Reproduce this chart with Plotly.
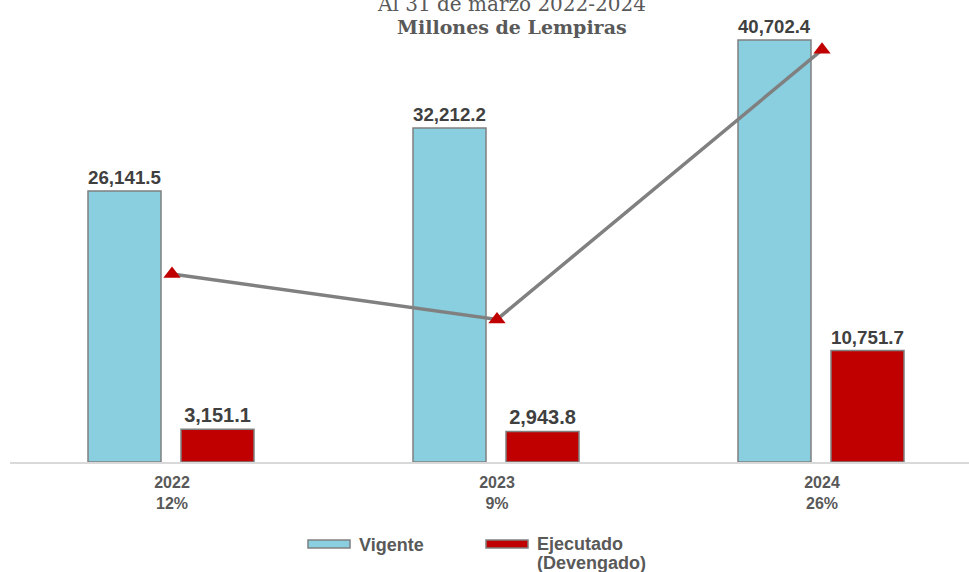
import plotly.graph_objects as go

years = ["2022", "2023", "2024"]
pct_labels = ["12%", "9%", "26%"]
vigente = [26141.5, 32212.2, 40702.4]
ejecutado = [3151.1, 2943.8, 10751.7]
pct_exec = [12.05, 9.14, 26.42]

W, H = 969, 572
L, R, T, B = 10, 0, 20, 110
PW, PH = W - L - R, H - T - B

def px(x):
    return (x - L) / PW

def py(y):
    return (H - B - y) / PH

xs = [0, 1, 2]
unit = 325.0
x0 = -(172 - L) / unit
x1 = x0 + PW / unit
bw = 73 / unit

lab_font = dict(family="Liberation Sans", size=20, color="#404040")

fig = go.Figure()
fig.add_trace(go.Bar(
    x=xs, y=vigente, width=bw, offset=(88 - 172) / unit,
    marker=dict(color="#89CFE0", line=dict(color="#808080", width=1.5)),
    text=[f"{v:,.1f}" for v in vigente], textposition="outside",
    textfont=lab_font, texttemplate="<b>%{text}</b>", cliponaxis=False,
    name="Vigente", showlegend=False))
fig.add_trace(go.Bar(
    x=xs, y=ejecutado, width=bw, offset=(181 - 172) / unit,
    marker=dict(color="#C00000", line=dict(color="#808080", width=1.5)),
    text=[f"{v:,.1f}" for v in ejecutado], textposition="outside",
    textfont=lab_font, texttemplate="<b>%{text}</b>", cliponaxis=False,
    name="Ejecutado (Devengado)", showlegend=False))
fig.add_trace(go.Scatter(
    x=xs, y=pct_exec, yaxis="y2", mode="lines+markers",
    line=dict(color="#808080", width=3.5),
    marker=dict(symbol="triangle-up", size=15, color="#C00000"),
    cliponaxis=False, showlegend=False))

ymax = PH / ((462 - 191) / 26141.5)
y2max = PH / (188 / 12.05)

fig.update_layout(
    width=W, height=H, margin=dict(l=L, r=R, t=T, b=B),
    paper_bgcolor="white", plot_bgcolor="white",
    barmode="overlay",
    xaxis=dict(range=[x0, x1], tickvals=xs,
               ticktext=[f"<b>{y}<br>{p}</b>" for y, p in zip(years, pct_labels)],
               tickfont=dict(family="Liberation Sans", size=16, color="#595959"),
               ticklabelstandoff=5,
               showline=True, linecolor="#D9D9D9", linewidth=1.5, showgrid=False,
               zeroline=False, ticks=""),
    yaxis=dict(range=[0, ymax], visible=False, showgrid=False),
    yaxis2=dict(range=[0, y2max], overlaying="y", visible=False, showgrid=False),
    showlegend=False,
)

annos = [
    dict(x=px(511), y=py(4), text="Al 31 de marzo 2022-2024",
         font=dict(family="DejaVu Serif", size=20, color="#595959")),
    dict(x=px(512), y=py(27), text="<b>Millones de Lempiras</b>",
         font=dict(family="DejaVu Serif", size=19, color="#595959")),
]
for a in annos:
    a.update(xref="paper", yref="paper", showarrow=False, xanchor="center", yanchor="middle")
    fig.add_annotation(**a)

leg_font = dict(family="Liberation Sans", size=18, color="#595959")
leg_items = [
    (308, 350, 540, 548, "#89CFE0", 357, 545, "<b>Vigente</b>"),
    (486, 528, 540, 548, "#C00000", 535, 544, "<b>Ejecutado</b>"),
]
for xa, xb, ya, yb, col, tx, ty, txt in leg_items:
    fig.add_shape(type="rect", xref="paper", yref="paper",
                  x0=px(xa), x1=px(xb), y0=py(yb), y1=py(ya),
                  fillcolor=col, line=dict(color="#808080", width=1.5))
    fig.add_annotation(xref="paper", yref="paper", x=px(tx), y=py(ty), text=txt,
                       showarrow=False, xanchor="left", yanchor="middle", font=leg_font)
fig.add_annotation(xref="paper", yref="paper", x=px(535), y=py(563), text="<b>(Devengado)</b>",
                   showarrow=False, xanchor="left", yanchor="middle", font=leg_font)

fig.write_html("out.html", config={"displayModeBar": False},
               post_script="document.body.style.margin='0';document.body.style.overflow='hidden';")
